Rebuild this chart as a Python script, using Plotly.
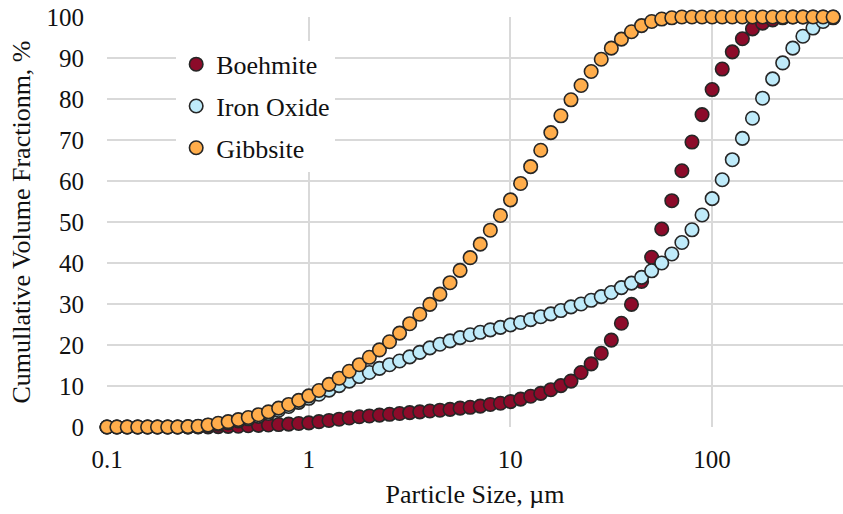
import plotly.graph_objects as go

# Particle size classes (µm)
sizes = [0.100, 0.112, 0.126, 0.142, 0.159, 0.178, 0.200, 0.224, 0.252, 0.283,
         0.317, 0.356, 0.399, 0.448, 0.502, 0.564, 0.632, 0.710, 0.796, 0.893,
         1.002, 1.125, 1.262, 1.416, 1.589, 1.783, 2.000, 2.244, 2.518, 2.825,
         3.170, 3.557, 3.991, 4.477, 5.024, 5.637, 6.325, 7.096, 7.962, 8.934,
         10.024, 11.247, 12.619, 14.159, 15.887, 17.825, 20.000, 22.440, 25.179, 28.251,
         31.698, 35.566, 39.905, 44.774, 50.238, 56.368, 63.246, 70.963, 79.621, 89.337,
         100.237, 112.468, 126.191, 141.589, 158.866, 178.250, 200.000, 224.404, 251.785, 282.508,
         316.979, 355.656, 399.052]

boehmite = [0, 0, 0, 0, 0, 0, 0, 0, 0, 0,
            0, 0.1, 0.15, 0.2, 0.3, 0.4, 0.5, 0.6, 0.7, 0.85,
            1.0, 1.3, 1.6, 1.9, 2.2, 2.5, 2.7, 2.9, 3.1, 3.3,
            3.5, 3.7, 3.9, 4.1, 4.3, 4.6, 4.8, 5.1, 5.5, 5.8,
            6.2, 6.8, 7.5, 8.2, 9.1, 10.1, 11.2, 13.3, 15.4, 18.0,
            21.2, 25.3, 29.9, 35.5, 41.4, 48.3, 55.2, 62.5, 69.5, 76.2,
            82.3, 87.3, 91.5, 94.7, 97.1, 98.5, 99.3, 99.8, 100, 100,
            100, 100, 100]

iron_oxide = [0, 0, 0, 0, 0, 0, 0, 0, 0, 0.1,
              0.4, 0.7, 1.0, 1.5, 2.0, 2.6, 3.3, 4.1, 5.0, 6.0,
              7.0, 8.0, 9.0, 10.1, 11.2, 12.3, 13.3, 14.3, 15.2, 16.1,
              17.1, 18.2, 19.3, 20.2, 21.0, 21.8, 22.5, 23.1, 23.7, 24.3,
              24.9, 25.5, 26.2, 26.9, 27.6, 28.4, 29.3, 30.0, 30.9, 31.8,
              32.8, 34.0, 35.1, 36.5, 38.1, 40.0, 42.2, 45.0, 48.1, 51.7,
              55.7, 60.3, 65.2, 70.4, 75.3, 80.2, 84.9, 88.8, 92.4, 95.3,
              97.3, 98.9, 99.8]

gibbsite = [0, 0, 0, 0, 0, 0, 0, 0, 0.1, 0.2,
            0.5, 0.9, 1.3, 1.8, 2.3, 3.0, 3.7, 4.6, 5.5, 6.5,
            7.6, 8.9, 10.4, 11.9, 13.6, 15.2, 17.0, 18.8, 20.8, 22.9,
            25.2, 27.5, 29.9, 32.4, 35.2, 38.2, 41.3, 44.6, 48.0, 51.6,
            55.4, 59.4, 63.5, 67.5, 71.8, 75.9, 79.8, 83.3, 86.7, 89.7,
            92.4, 94.6, 96.4, 97.9, 98.9, 99.5, 99.8, 100, 100, 100,
            100, 100, 100, 100, 100, 100, 100, 100, 100, 100,
            100, 100, 100]

series = [("Boehmite", boehmite, "#8C0B2A"),
          ("Iron Oxide", iron_oxide, "#BFEBFA"),
          ("Gibbsite", gibbsite, "#FFAD4B")]

x_tickvals = [0.1, 1, 10, 100]
x_ticktext = ["0.1", "1", "10", "100"]
y_tickvals = list(range(0, 101, 10))

FONT = "Liberation Serif, Times New Roman, serif"
TXT = "#111111"

fig = go.Figure()
for name, vals, col in series:
    fig.add_trace(go.Scatter(
        x=sizes, y=vals, mode="markers", name=name, legendgroup=name,
        marker=dict(size=13.5, color=col, line=dict(width=1.6, color="#262626")),
        cliponaxis=False,
    ))

fig.update_layout(
    width=843, height=514,
    margin=dict(l=107, r=0, t=17, b=87),
    paper_bgcolor="white", plot_bgcolor="white",
    font=dict(family=FONT, size=25, color=TXT),
    showlegend=True,
    legend=dict(
        x=0.094, y=0.942, xanchor="left", yanchor="top",
        bgcolor="white", font=dict(family=FONT, size=26, color=TXT),
        tracegroupgap=5, itemsizing="trace",
    ),
    xaxis=dict(
        type="log", range=[-1, 2.65],
        tickvals=x_tickvals, ticktext=x_ticktext,
        showgrid=True, gridcolor="#d9d9d9", gridwidth=1.5,
        zeroline=False, showline=False, ticks="",
        tickfont=dict(family=FONT, size=25, color=TXT),
        ticklabelstandoff=15,
        title=dict(text="Particle Size, µm", font=dict(family=FONT, size=26, color=TXT), standoff=12),
    ),
    yaxis=dict(
        range=[0, 100], tickvals=y_tickvals,
        showgrid=True, gridcolor="#d9d9d9", gridwidth=1.5,
        zeroline=False, showline=False, ticks="",
        tickfont=dict(family=FONT, size=25, color=TXT),
        ticklabelstandoff=22,
        title=dict(text="Cumullative Volume Fractionm, %", font=dict(family=FONT, size=26, color=TXT), standoff=8),
    ),
)

fig.write_html("out.html")
